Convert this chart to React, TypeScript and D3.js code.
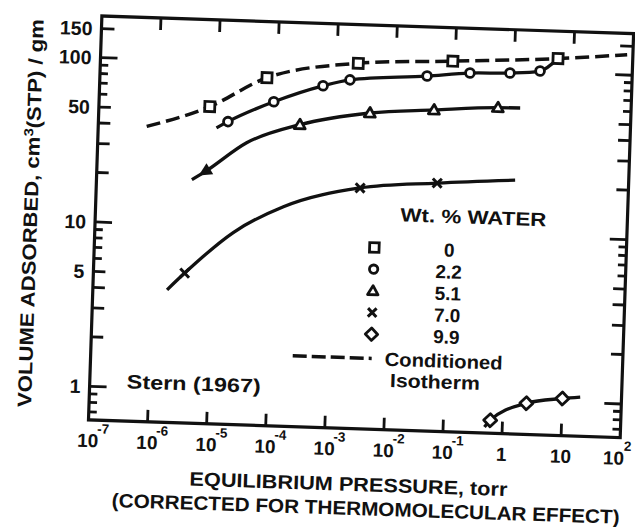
import React from "react";
import * as d3 from "d3";

// ---------- data (pressure in torr, volume in cm3(STP)/gm) ----------
const condP = [6.6e-7, 7.5e-6, 6.7e-5, 2.3e-3, 0.091, 5.45, 80];
const condV = [39, 53, 81.5, 104, 112, 122, 133];
const sqP = [7.5e-6, 6.7e-5, 2.3e-3, 0.091, 5.45];
const sqV = [53, 81.5, 104, 112, 122];

const ciCurveP = [1.0e-5, 1.55e-5, 9.0e-5, 6.0e-4, 1.7e-3, 0.034, 0.18, 0.855, 2.75, 5.45];
const ciCurveV = [39.5, 43.3, 58.4, 74.7, 82.2, 89.9, 95.6, 97.4, 101.6, 122];
const ciP = [1.55e-5, 9.0e-5, 6.0e-4, 1.7e-3, 0.034, 0.18, 0.855, 2.75];
const ciV = [43.3, 58.4, 74.7, 82.2, 89.9, 95.6, 97.4, 101.6];

const trCurveP = [4.1e-6, 6.7e-6, 3.3e-5, 2.56e-4, 3.86e-3, 0.0466, 0.56, 1.33];
const trCurveV = [18.9, 21.2, 32.5, 42.9, 52.2, 56.1, 59.7, 60];
const trP = [2.56e-4, 3.86e-3, 0.0466, 0.56];
const trV = [42.9, 52.2, 56.1, 59.7];
const trArrowP = [6.7e-6, 4.1e-6];
const trArrowV = [21.2, 18.9];

const xxCurveP = [1.8e-6, 3.5e-6, 2.2e-5, 1.5e-4, 2.9e-3, 0.058, 1.2];
const xxCurveV = [4.0, 5.1, 9.2, 13.5, 18.2, 20.2, 21.8];
const xxP = [3.5e-6, 2.9e-3, 0.058];
const xxV = [5.1, 18.2, 20.2];

const diCurveP = [0.5, 0.62, 2.48, 10, 20];
const diCurveV = [0.68, 0.75, 0.966, 1.05, 1.08];
const diP = [0.62, 2.48, 10];
const diV = [0.75, 0.966, 1.05];

const xTickExp = [-7, -6, -5, -4, -3, -2, -1, 0, 1, 2];
const xTickBase = ["10", "10", "10", "10", "10", "10", "10", "1", "10", "10"];
const xTickSup = ["-7", "-6", "-5", "-4", "-3", "-2", "-1", "", "", "2"];
const yTickValues = [1, 5, 10, 50, 100, 150];
const yTickLabels = ["1", "5", "10", "50", "100", "150"];

const legendValues = ["0", "2.2", "5.1", "7.0", "9.9"];
const legendSymbols = ["square", "circle", "triangle", "cross", "diamond"];

const FONT = "'Liberation Sans', Arial, sans-serif";
const INK = "#111";

const zip = (a: number[], b: number[]) => a.map((v, i) => [v, b[i]] as [number, number]);

function Marker({ kind, cx, cy, s = 1 }: { kind: string; cx: number; cy: number; s?: number }) {
  const sw = 2.8;
  if (kind === "square")
    return <rect x={cx - 5 * s} y={cy - 5 * s} width={10 * s} height={10 * s} fill="#fff" stroke={INK} strokeWidth={sw} />;
  if (kind === "circle") return <circle cx={cx} cy={cy} r={4.4 * s} fill="#fff" stroke={INK} strokeWidth={sw} />;
  if (kind === "triangle")
    return (
      <path
        d={`M${cx},${cy - 5.5 * s} L${cx + 5.5 * s},${cy + 4 * s} L${cx - 5.5 * s},${cy + 4 * s} Z`}
        fill="#fff"
        stroke={INK}
        strokeWidth={sw}
        strokeLinejoin="round"
      />
    );
  if (kind === "cross")
    return (
      <path
        d={`M${cx - 4.5 * s},${cy - 4.5 * s} L${cx + 4.5 * s},${cy + 4.5 * s} M${cx + 4.5 * s},${cy - 4.5 * s} L${cx - 4.5 * s},${cy + 4.5 * s}`}
        stroke={INK}
        strokeWidth={3}
      />
    );
  return (
    <path
      d={`M${cx},${cy - 6.5 * s} L${cx + 6.5 * s},${cy} L${cx},${cy + 6.5 * s} L${cx - 6.5 * s},${cy} Z`}
      fill="#fff"
      stroke={INK}
      strokeWidth={sw}
      strokeLinejoin="round"
    />
  );
}

export default function App() {
  const x = d3.scaleLog().domain([1e-7, 1e2]).range([95, 627]);
  const y = d3.scaleLog().domain([0.625, 179]).range([428.8, 24.7]);
  const line = d3
    .line<[number, number]>()
    .x((d) => x(d[0]))
    .y((d) => y(d[1]))
    .curve(d3.curveMonotoneX);

  const [x0, x1] = x.range();
  const [y0, y1] = y.range();

  const yTicks: { v: number; len: number }[] = [];
  for (let d = -1; d <= 2; d++) {
    for (let k = 1; k <= 9; k++) {
      const v = k * Math.pow(10, d);
      if (v < 0.625 || v > 179) continue;
      yTicks.push({ v, len: k === 1 ? 17 : k <= 5 ? 12 : 8 });
    }
  }
  yTicks.push({ v: 150, len: 13 });

  const ax = x(trArrowP[0]),
    ay = y(trArrowV[0]);
  const bx = x(trArrowP[1]),
    by = y(trArrowV[1]);
  const ang = Math.atan2(by - ay, bx - ax);
  const ux = Math.cos(ang),
    uy = Math.sin(ang);
  const tip = [ax + ux * 7, ay + uy * 7];
  const b1 = [ax - ux * 6 - uy * 6.5, ay - uy * 6 + ux * 6.5];
  const b2 = [ax - ux * 6 + uy * 6.5, ay - uy * 6 - ux * 6.5];

  const legX = 375;
  const legY0 = 247;
  const legDY = 21.7;

  return (
    <svg
      width={635}
      height={527}
      style={{ position: "absolute", left: 0, top: 0, background: "#fff" }}
      fontFamily={FONT}
    >
      <rect x={0} y={0} width={635} height={527} fill="#fff" />
      <g transform="rotate(1.9, 360, 228)">
        <rect x={x0} y={y1} width={x1 - x0} height={y0 - y1} fill="none" stroke={INK} strokeWidth={3.2} />

        {yTicks.map((t, i) => (
          <g key={"yt" + i}>
            <line x1={x0} x2={x0 + t.len} y1={y(t.v)} y2={y(t.v)} stroke={INK} strokeWidth={2.8} />
            <line x1={x1} x2={x1 - t.len} y1={y(t.v)} y2={y(t.v)} stroke={INK} strokeWidth={2.8} />
          </g>
        ))}
        {yTickValues.map((v, i) => (
          <text key={"yl" + i} x={86} y={y(v)} dy="0.36em" textAnchor="end" fontSize={19.5} fontWeight={700} fill={INK}>
            {yTickLabels[i]}
          </text>
        ))}

        {xTickExp.map((e, i) => {
          const px = x(Math.pow(10, e));
          const inner = e > -7 && e < 2;
          const lx = e === 2 ? px - 6 : px;
          return (
            <g key={"xt" + i}>
              {inner && <line x1={px} x2={px} y1={y0} y2={y0 - 12} stroke={INK} strokeWidth={2.8} />}
              {inner && <line x1={px} x2={px} y1={y1} y2={y1 + 12} stroke={INK} strokeWidth={2.8} />}
              <text x={lx} y={456} textAnchor="middle" fontSize={19} fontWeight={700} fill={INK}>
                {xTickBase[i]}
              </text>
              {xTickSup[i] && (
                <text x={lx + (e === 2 ? 10 : 9)} y={442} textAnchor="start" fontSize={13.5} fontWeight={700} fill={INK}>
                  {xTickSup[i]}
                </text>
              )}
            </g>
          );
        })}

        <text
          transform="translate(30,224) rotate(-90)"
          textAnchor="middle"
          dy="0.36em"
          fontSize={19.5}
          fontWeight={700}
          fill={INK}
          textLength={388}
          lengthAdjust="spacingAndGlyphs"
        >
          VOLUME ADSORBED, cm
          <tspan dy="-7" fontSize={13}>
            3
          </tspan>
          <tspan dy="7">(STP) / gm</tspan>
        </text>
        <text x={357} y={491} textAnchor="middle" fontSize={19.5} fontWeight={700} fill={INK} textLength={318} lengthAdjust="spacingAndGlyphs">
          EQUILIBRIUM PRESSURE, torr
        </text>
        <text x={375} y={515} textAnchor="middle" fontSize={19.5} fontWeight={700} fill={INK} textLength={508} lengthAdjust="spacingAndGlyphs">
          (CORRECTED FOR THERMOMOLECULAR EFFECT)
        </text>

        <path d={line(zip(condP, condV)) || ""} fill="none" stroke={INK} strokeWidth={3.5} strokeDasharray="14,6" />
        <path d={line(zip(ciCurveP, ciCurveV)) || ""} fill="none" stroke={INK} strokeWidth={3.3} />
        <path d={line(zip(trCurveP, trCurveV)) || ""} fill="none" stroke={INK} strokeWidth={3.3} />
        <path d={line(zip(xxCurveP, xxCurveV)) || ""} fill="none" stroke={INK} strokeWidth={3.3} />
        <path d={line(zip(diCurveP, diCurveV)) || ""} fill="none" stroke={INK} strokeWidth={3.3} />

        {zip(sqP, sqV).map((d, i) => (
          <Marker key={"sq" + i} kind="square" cx={x(d[0])} cy={y(d[1])} />
        ))}
        {zip(ciP, ciV).map((d, i) => (
          <Marker key={"ci" + i} kind="circle" cx={x(d[0])} cy={y(d[1])} />
        ))}
        {zip(trP, trV).map((d, i) => (
          <Marker key={"tr" + i} kind="triangle" cx={x(d[0])} cy={y(d[1])} />
        ))}
        <path d={`M${tip[0]},${tip[1]} L${b1[0]},${b1[1]} L${b2[0]},${b2[1]} Z`} fill={INK} />
        {zip(xxP, xxV).map((d, i) => (
          <Marker key={"xx" + i} kind="cross" cx={x(d[0])} cy={y(d[1])} />
        ))}
        {zip(diP, diV).map((d, i) => (
          <Marker key={"di" + i} kind="diamond" cx={x(d[0])} cy={y(d[1])} />
        ))}

        <text x={400} y={220} fontSize={19} fontWeight={700} fill={INK} textLength={146} lengthAdjust="spacingAndGlyphs">
          Wt. % WATER
        </text>
        {legendValues.map((v, i) => (
          <g key={"lg" + i}>
            <Marker kind={legendSymbols[i]} cx={legX} cy={legY0 + i * legDY} s={0.95} />
            <text x={450} y={legY0 + i * legDY} dy="0.36em" textAnchor="middle" fontSize={19} fontWeight={700} fill={INK}>
              {v}
            </text>
          </g>
        ))}
        <line x1={297} x2={376} y1={358} y2={358} stroke={INK} strokeWidth={3.5} strokeDasharray="14,5" />
        <text x={389} y={358} dy="0.36em" fontSize={19} fontWeight={700} fill={INK} textLength={118} lengthAdjust="spacingAndGlyphs">
          Conditioned
        </text>
        <text x={395} y={379} dy="0.36em" fontSize={19} fontWeight={700} fill={INK} textLength={90} lengthAdjust="spacingAndGlyphs">
          Isotherm
        </text>
        <text x={132} y={389} dy="0.36em" fontSize={19.5} fontWeight={700} fill={INK} textLength={134} lengthAdjust="spacingAndGlyphs">
          Stern (1967)
        </text>
      </g>
    </svg>
  );
}
